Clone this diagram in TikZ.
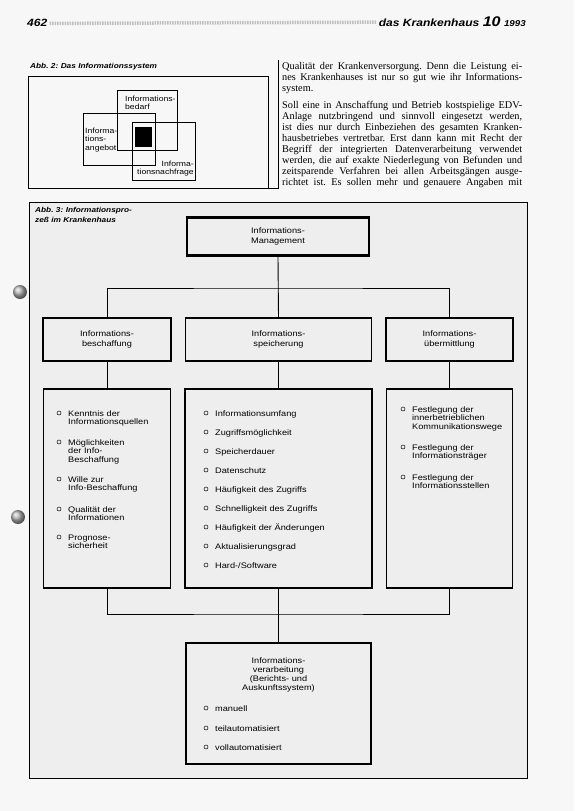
\documentclass[tikz,border=0pt]{standalone}
\usepackage{fontspec}
\setmainfont{Liberation Serif}
\newfontfamily\diagfont[FakeStretch=1.15]{Liberation Sans}
\usetikzlibrary{positioning}
\frenchspacing

\begin{document}
\begin{tikzpicture}[x=1pt,y=-1pt,
  box/.style={draw,line width=1.1pt,inner sep=0pt,align=center,font=\diagfont\fontsize{8}{9.5}\selectfont},
  listbox/.style={draw,line width=1.1pt,inner sep=0pt},
  listentry/.style={anchor=base west,inner sep=0pt,text width=110pt,align=left,font=\diagfont\fontsize{8}{8.8}\selectfont},
  bul/.style={line width=0.5pt},
  captxt/.style={anchor=base west,inner sep=0pt,text width=130pt,align=left,font=\diagfont\bfseries\itshape\fontsize{7.2}{10}\selectfont},
  vennlabel/.style={inner sep=0pt,text width=60pt,font=\diagfont\fontsize{7.5}{8.6}\selectfont},
  bodyline/.style={anchor=base west,inner sep=0pt,font=\fontsize{10.3}{11}\selectfont},
  link/.style={line width=0.9pt}]
\definecolor{paper}{HTML}{F7F7F7}
\definecolor{panel}{HTML}{EEEEEE}
\fill[paper] (0,0) rectangle (574,811);
\useasboundingbox (0,0) rectangle (574,811);

% page head
\node[anchor=base west,inner sep=0pt,font=\diagfont\bfseries\itshape\fontsize{10.5}{12}\selectfont] (pageno) at (27,27) {462};
\node[anchor=base east,inner sep=0pt,font=\diagfont\bfseries\itshape\fontsize{10.5}{12}\selectfont] (journal) at (526,27)
  {das Krankenhaus {\fontsize{14}{14}\selectfont 10} {\fontsize{8.5}{9}\selectfont 1993}};
\draw[gray!50,line width=3.5pt,dash pattern=on 1.5pt off 1pt] ([xshift=2pt]pageno.east) -- ([xshift=-2pt]journal.west);

% Abb. 2 (top left)
\node[captxt] (abb2) at (30,68) {Abb. 2: Das Informationssystem};
\draw[line width=0.6pt] (28,76) rectangle (268,188);
\draw[line width=0.6pt] (117,90) rectangle (177,150);  % Bedarf
\draw[line width=0.6pt] (83,113) rectangle (155,165);  % Angebot
\draw[line width=0.6pt] (132,122) rectangle (195,180); % Nachfrage
\fill (135,127) rectangle (152,147);
\node[vennlabel,anchor=base west,align=left] (bedarf) at (125,101) {Informations-\\bedarf};
\node[vennlabel,anchor=base west,align=left] (angebot) at (85,133) {Informa-\\tions-\\angebot};
\node[vennlabel,anchor=base east,align=right] (nachfrage) at (194,166) {Informa-\\tionsnachfrage};

% text column
\draw[line width=0.6pt] (278,60) -- (278,188) -- (268,188);
\foreach \y/\txt [count=\i] in {69/{Qualität der Krankenversorgung. Denn die Leistung ei-},
    80/{nes Krankenhauses ist nur so gut wie ihr Informations-},
    108/{Soll eine in Anschaffung und Betrieb kostspielige EDV-},
    119/{Anlage nutzbringend und sinnvoll eingesetzt werden,},
    130/{ist dies nur durch Einbeziehen des gesamten Kranken-},
    141/{hausbetriebes vertretbar. Erst dann kann mit Recht der},
    152/{Begriff der integrierten Datenverarbeitung verwendet},
    163/{werden, die auf exakte Niederlegung von Befunden und},
    174/{zeitsparende Verfahren bei allen Arbeitsgängen ausge-},
    185/{richtet ist. Es sollen mehr und genauere Angaben mit}} {
  \node[bodyline] (body\i) at (282,\y) {\makebox[240pt][s]{\txt}};
}
\node[bodyline] (bodyend) at (282,91) {system.};

% binder holes
\shade[ball color=gray!60] (20,292) circle (7pt);
\shade[ball color=gray!60] (18,517) circle (7pt);

% Abb. 3 (frame)
\draw[line width=0.7pt,fill=panel] (29,202) rectangle (527,778);
\node[captxt] (abb3) at (35,212) {Abb. 3: Informationspro-\\zeß im Krankenhaus};

\node[box,line width=2.6pt,minimum width=182pt,minimum height=38pt] (mgmt) at (278,236.5) {Informations-\\Management};

% second row
\node[box,minimum width=128pt,minimum height=43pt] (besch) at (107,339.5) {Informations-\\beschaffung};
\node[box,minimum width=186pt,minimum height=43pt] (speich) at (278.5,339.5) {Informations-\\speicherung};
\node[box,minimum width=127pt,minimum height=43pt] (uebm) at (449.5,339.5) {Informations-\\übermittlung};

% third row
\node[listbox,minimum width=127pt,minimum height=199pt] (beschL) at (107,488.5) {};
\node[listbox,minimum width=187pt,minimum height=199pt] (speichL) at (278.5,488.5) {};
\node[listbox,minimum width=126pt,minimum height=199pt] (uebmL) at (449.5,488.5) {};

% bottom
\node[listbox,minimum width=185pt,minimum height=121pt] (verarb) at (278.5,703.5) {};
\node[listentry,anchor=base,align=center,text width=150pt,font=\diagfont\fontsize{8}{9.3}\selectfont] (verarbT) at (278.5,663)
  {Informations-\\verarbeitung\\(Berichts- und\\Auskunftssystem)};

% connectors
\coordinate (fork) at (278,288);
\coordinate (join) at (278.5,614);
\draw[link] (mgmt.south) -- (speich.north);
\draw[link] (besch.north) |- (fork) -| (uebm.north);
\draw[link] (besch.south) -- (beschL.north);
\draw[link] (speich.south) -- (speichL.north);
\draw[link] (uebm.south) -- (uebmL.north);
\draw[link] (beschL.south) |- (join) -| (uebmL.south);
\draw[link] (speichL.south) -- (verarb.north);

% lists
\foreach \y/\txt [count=\i] in {416/{Kenntnis der\\Informationsquellen},
    445/{Möglichkeiten\\der Info-\\Beschaffung},
    482/{Wille zur\\Info-Beschaffung},
    512/{Qualität der\\Informationen},
    540/{Prognose-\\sicherheit}} {
  \node[listentry] (beschI\i) at (68,\y) {\txt};
  \draw[bul] ([shift={(-9pt,3pt)}]beschI\i.base west) circle (2pt);
}
\foreach \txt [count=\i] in {Informationsumfang,Zugriffsmöglichkeit,Speicherdauer,Datenschutz,
    Häufigkeit des Zugriffs,Schnelligkeit des Zugriffs,Häufigkeit der Änderungen,
    Aktualisierungsgrad,Hard-/Software} {
  \node[listentry] (speichI\i) at (215,397+19*\i) {\txt};
  \draw[bul] ([shift={(-9pt,3pt)}]speichI\i.base west) circle (2pt);
}
\foreach \y/\txt [count=\i] in {412/{Festlegung der\\innerbetrieblichen\\Kommunikationswege},
    450/{Festlegung der\\Informationsträger},
    480/{Festlegung der\\Informationsstellen}} {
  \node[listentry] (uebmI\i) at (412,\y) {\txt};
  \draw[bul] ([shift={(-9pt,3pt)}]uebmI\i.base west) circle (2pt);
}
\foreach \y/\txt [count=\i] in {711/manuell,731/teilautomatisiert,750/vollautomatisiert} {
  \node[listentry] (verarbI\i) at (215,\y) {\txt};
  \draw[bul] ([shift={(-9pt,3pt)}]verarbI\i.base west) circle (2pt);
}
\end{tikzpicture}
\end{document}
